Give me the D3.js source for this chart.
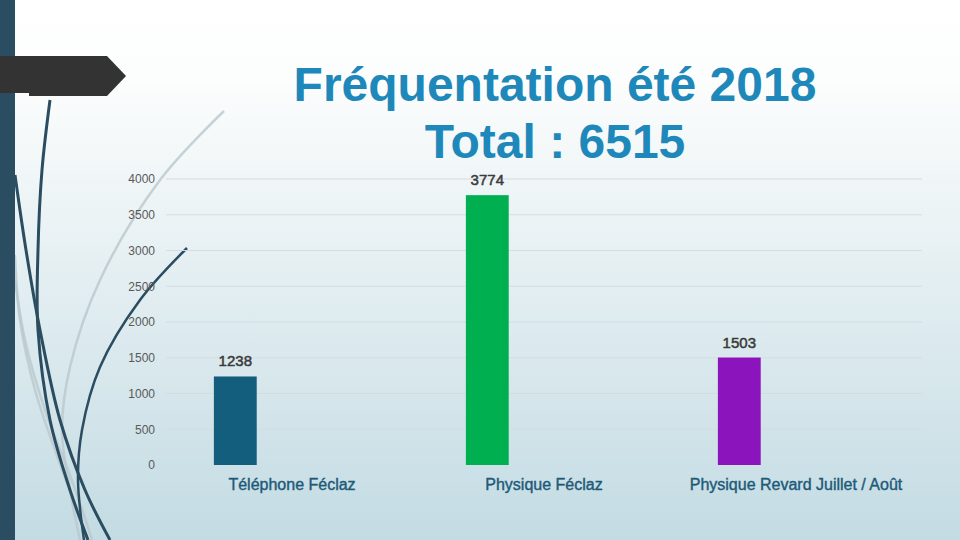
<!DOCTYPE html>
<html lang="fr">
<head>
    <meta charset="UTF-8">
    <title>Fréquentation été 2018</title>
    <script src="https://d3js.org/d3.v7.min.js"></script>
    <style>
        html, body { margin: 0; padding: 0; overflow: hidden; }
        svg { display: block; font-family: "Liberation Sans", Arial, sans-serif; }
    </style>
</head>
<body>
    <svg id="chart"></svg>

    <script>
        // Data
        const categories = ["Téléphone Féclaz", "Physique Féclaz", "Physique Revard Juillet / Août"];
        const values = [1238, 3774, 1503];
        const barColors = ["#135E7D", "#00B050", "#8C14BC"];
        const yTicks = [0, 500, 1000, 1500, 2000, 2500, 3000, 3500, 4000];
        const titleLines = ["Fréquentation été 2018", "Total : 6515"];

        const width = 960;
        const height = 540;

        const svg = d3.select("#chart")
            .attr("width", width)
            .attr("height", height);

        // Background gradient of the slide
        const defs = svg.append("defs");
        const grad = defs.append("linearGradient")
            .attr("id", "bg")
            .attr("x1", 0).attr("y1", 0).attr("x2", 0).attr("y2", 1);
        grad.append("stop").attr("offset", "0%").attr("stop-color", "#ffffff");
        grad.append("stop").attr("offset", "15%").attr("stop-color", "#fcfdfd");
        grad.append("stop").attr("offset", "100%").attr("stop-color", "#c3dbe3");

        svg.append("rect")
            .attr("width", width)
            .attr("height", height)
            .attr("fill", "url(#bg)");

        // Decorative wisps on the left side
        const wispLine = d3.line().curve(d3.curveCatmullRom.alpha(0.5));
        const lightWisps = [
            [[224, 111], [160, 180], [100, 280], [70, 367], [62, 430], [70, 490], [80, 540]],
            [[15, 255], [20, 320], [35, 390], [55, 450], [75, 505], [88, 540]],
            [[15, 280], [25, 340], [45, 410], [68, 470], [84, 515], [92, 540]]
        ];
        const darkWisps = [
            [[50, 100], [42, 170], [38, 250], [38, 330], [50, 420], [70, 490], [88, 540]],
            [[15, 175], [26, 250], [40, 330], [60, 420], [85, 490], [110, 540]],
            [[187, 248], [140, 300], [100, 367], [82, 430], [78, 480], [84, 540]]
        ];
        svg.append("g").selectAll("path")
            .data(lightWisps)
            .enter().append("path")
            .attr("d", wispLine)
            .attr("fill", "none")
            .attr("stroke", "#b9c8cd")
            .attr("stroke-opacity", 0.8)
            .attr("stroke-width", 2.5);
        svg.append("g").selectAll("path")
            .data(darkWisps)
            .enter().append("path")
            .attr("d", wispLine)
            .attr("fill", "none")
            .attr("stroke", "#2b4d61")
            .attr("stroke-width", (d, i) => i === 2 ? 2.5 : 3);

        // Left band and arrow
        svg.append("rect")
            .attr("x", 0).attr("y", 0)
            .attr("width", 15).attr("height", height)
            .attr("fill", "#2b4d61");
        svg.append("polygon")
            .attr("points", "0,56 107,56 126,76 107,96 29,96 29,93 0,93")
            .attr("fill", "#333333");

        // Title
        svg.append("text")
            .attr("x", 555)
            .attr("text-anchor", "middle")
            .attr("fill", "#1E88BA")
            .style("font-size", "48px")
            .style("font-weight", "bold")
            .selectAll("tspan")
            .data(titleLines)
            .enter().append("tspan")
            .attr("x", 555)
            .attr("y", (d, i) => 101 + i * 57)
            .text(d => d);

        // Scales
        const x = d3.scaleBand()
            .domain(categories)
            .range([166, 922]);
        const y = d3.scaleLinear()
            .domain([0, 4000])
            .range([465, 179]);

        // Grid lines
        svg.append("g").selectAll("line")
            .data(yTicks.filter(t => t > 0))
            .enter().append("line")
            .attr("x1", 166).attr("x2", 922)
            .attr("y1", d => y(d)).attr("y2", d => y(d))
            .attr("stroke", "#d6dcde")
            .attr("stroke-width", 1);

        // Y axis labels
        const yAxis = d3.axisLeft(y)
            .tickValues(yTicks)
            .tickSize(0)
            .tickPadding(0)
            .tickFormat(d3.format("d"));
        const yAxisG = svg.append("g")
            .attr("transform", "translate(155,0)")
            .call(yAxis);
        yAxisG.select(".domain").remove();
        yAxisG.selectAll("text")
            .attr("fill", "#595959")
            .style("font-size", "12px")
            .style("font-family", "'Liberation Sans', Arial, sans-serif");

        // Bars sit left inside each category band
        const barOffset = x.bandwidth() * 0.19;
        const barWidth = x.bandwidth() * 0.17;

        svg.append("g").selectAll("rect")
            .data(values)
            .enter().append("rect")
            .attr("x", (d, i) => x(categories[i]) + barOffset)
            .attr("y", d => y(d))
            .attr("width", barWidth)
            .attr("height", d => y(0) - y(d))
            .attr("fill", (d, i) => barColors[i]);

        // Value labels
        svg.append("g").selectAll("text")
            .data(values)
            .enter().append("text")
            .attr("x", (d, i) => x(categories[i]) + barOffset + barWidth / 2)
            .attr("y", d => y(d) - 10)
            .attr("text-anchor", "middle")
            .attr("fill", "#3a3a3a")
            .attr("stroke", "#3a3a3a")
            .attr("stroke-width", 0.5)
            .style("font-size", "15px")
            .text(d => d);

        // Category labels
        svg.append("g").selectAll("text")
            .data(categories)
            .enter().append("text")
            .attr("x", d => x(d) + x.bandwidth() / 2)
            .attr("y", 490)
            .attr("text-anchor", "middle")
            .attr("fill", "#1D5A78")
            .attr("stroke", "#1D5A78")
            .attr("stroke-width", 0.4)
            .style("font-size", "16px")
            .text(d => d);
    </script>
</body>
</html>
